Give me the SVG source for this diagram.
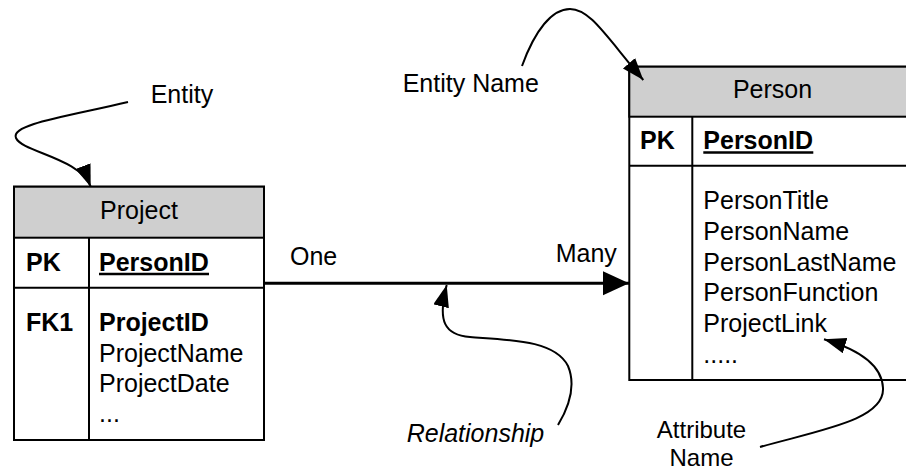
<svg xmlns="http://www.w3.org/2000/svg" width="906" height="472" viewBox="0 0 906 472">
<style>
  text { font-family: "Liberation Sans", Arial, sans-serif; font-size: 25px; fill: #000; }
  .b { font-weight: bold; }
  .i { font-style: italic; }
  .c { text-anchor: middle; }
  .s { font-size: 24px; }
  .box { fill: #fff; stroke: #000; stroke-width: 2; }
  .hdr { fill: #cfcfcf; stroke: #000; stroke-width: 2; }
  .ln { stroke: #000; stroke-width: 2; fill: none; }
  .ul { stroke: #000; stroke-width: 2.5; }
  .curve { stroke: #000; stroke-width: 2; fill: none; marker-end: url(#ah); }
  .rel { stroke: #000; stroke-width: 3; fill: none; marker-end: url(#ahBig); }
</style>
<defs>
  <marker id="ah" markerUnits="userSpaceOnUse" markerWidth="24" markerHeight="18" refX="22" refY="8" orient="auto">
    <path d="M0,0 L22,8 L0,16 z" fill="#000"/>
  </marker>
  <marker id="ahBig" markerUnits="userSpaceOnUse" markerWidth="28" markerHeight="26" refX="26" refY="12" orient="auto">
    <path d="M0,0 L26,12 L0,24 z" fill="#000"/>
  </marker>
</defs>
<rect width="906" height="472" fill="#fff"/>

<g id="project">
  <rect class="box" x="14" y="186.7" width="250" height="253.3"/>
  <rect class="hdr" x="14" y="186.7" width="250" height="51"/>
  <line class="ln" x1="14" y1="287.7" x2="264" y2="287.7"/>
  <line class="ln" x1="89" y1="237.7" x2="89" y2="440"/>
  <text class="c" x="139" y="219">Project</text>
  <text class="b" x="26" y="270.5">PK</text>
  <text class="b" x="99" y="270.5">PersonID</text>
  <line class="ul" x1="99" y1="274" x2="209" y2="274"/>
  <text class="b" x="26" y="330.7">FK1</text>
  <text class="b" x="99" y="330.7">ProjectID</text>
  <text x="99" y="361.7">ProjectName</text>
  <text x="99" y="391.7">ProjectDate</text>
  <text x="99" y="421.7">...</text>
</g>

<g id="person">
  <rect class="box" x="629.3" y="66.7" width="290" height="313.3"/>
  <rect class="hdr" x="629.3" y="66.7" width="290" height="50"/>
  <line class="ln" x1="629.3" y1="165.7" x2="919.3" y2="165.7"/>
  <line class="ln" x1="692.3" y1="116.7" x2="692.3" y2="380"/>
  <text class="c" x="772.5" y="98.3">Person</text>
  <text class="b" x="640" y="149">PK</text>
  <text class="b" x="703.3" y="149">PersonID</text>
  <line class="ul" x1="703.3" y1="152.5" x2="813.3" y2="152.5"/>
  <text x="703.3" y="209">PersonTitle</text>
  <text x="703.3" y="240">PersonName</text>
  <text x="703.3" y="270.5">PersonLastName</text>
  <text x="703.3" y="301">PersonFunction</text>
  <text x="703.3" y="331.7">ProjectLink</text>
  <text x="703.3" y="362.5">.....</text>
</g>

<g id="labels">
  <text x="150.7" y="102.7">Entity</text>
  <text x="402.7" y="91.7">Entity Name</text>
  <text x="290" y="265">One</text>
  <text x="555.7" y="261.7">Many</text>
  <text class="i" x="406.7" y="441.7">Relationship</text>
  <text class="c s" x="701.5" y="438">Attribute</text>
  <text class="c s" x="701.5" y="466">Name</text>
</g>

<g id="connectors">
  <line class="rel" x1="264" y1="283.3" x2="629" y2="283.3"/>
  <path class="curve" d="M128,102 C70,116 10,124 16,138 C22,152 80,158 90.7,186.7"/>
  <path class="curve" d="M522,66 C535,30 552,9 570,9 C590,9 605,35 643.3,80"/>
  <path class="curve" d="M558,425 C570,405 576,385 568,366 C555,340 510,340 470,337 C445,335 437,322 446.7,285"/>
  <path class="curve" d="M760,447 C820,430 885,420 883,388 C882,365 860,350 824,339.3"/>
</g>
</svg>
